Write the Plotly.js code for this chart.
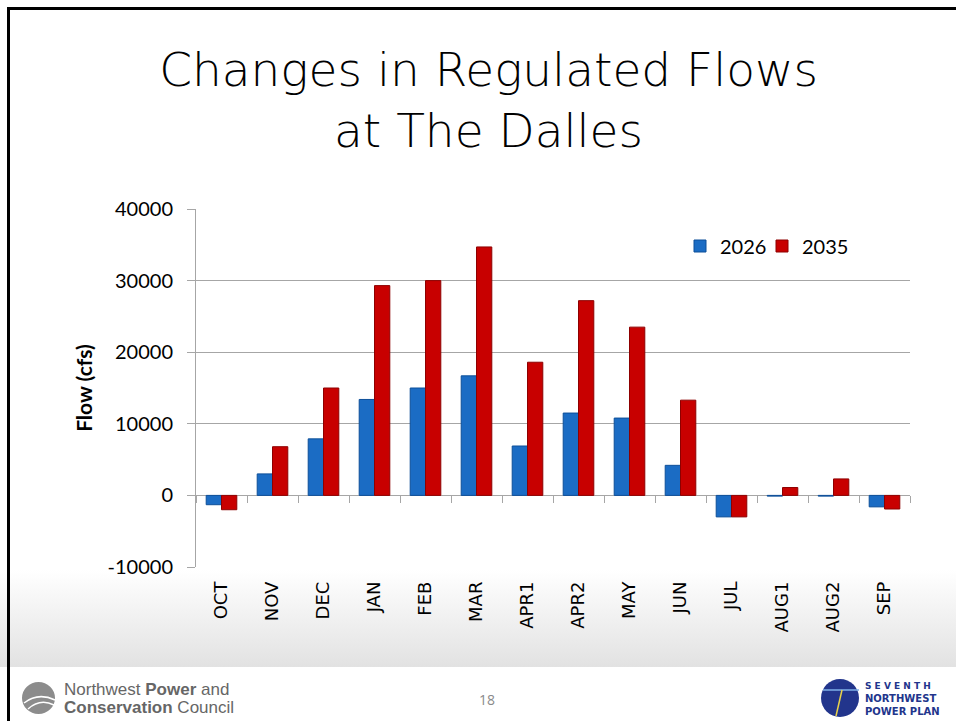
<!DOCTYPE html>
<html><head><meta charset="utf-8">
<script src="https://cdn.plot.ly/plotly-3.0.1.min.js"></script>
<style>
html,body{margin:0;padding:0;background:#fff}
#wrap{position:relative;width:956px;height:721px;overflow:hidden;background:linear-gradient(to bottom,#fff 0px,#fff 570px,#e2e2e2 667px,#fff 667px,#fff 721px)}
#chart{position:absolute;left:0;top:0;width:956px;height:721px}
#bt{position:absolute;left:7px;top:7px;right:0;height:3px;background:#000}
#bl{position:absolute;left:7px;top:7px;bottom:0;width:3px;background:#000}
</style></head>
<body><div id="wrap"><div id="chart"></div><div id="bt"></div><div id="bl"></div></div>
<script>
// ---- data ----
const months = ['OCT','NOV','DEC','JAN','FEB','MAR','APR1','APR2','MAY','JUN','JUL','AUG1','AUG2','SEP'];
const flow2026 = [-1300, 3000, 7900, 13400, 15000, 16700, 6900, 11500, 10800, 4200, -3000, -100, -100, -1600];
const flow2035 = [-2000, 6800, 15000, 29300, 30000, 34700, 18600, 27200, 23500, 13300, -3000, 1100, 2300, -1900];
const seriesNames = ['2026', '2035'];
const yTicks = [-10000, 0, 10000, 20000, 30000, 40000];
const titleText = 'Changes in Regulated Flows<br>at The Dalles';
const yTitle = 'Flow (cfs)';

// ---- layout geometry ----
const W = 956, H = 721, ML = 196, MR = 46, MT = 209, MB = 154;
const PW = W - ML - MR, PH = H - MT - MB;
const PX = x => (x - ML) / PW;
const PY = y => (H - MB - y) / PH;

const blue = '#1b6cc4', red = '#c80000';
const traces = [
  {type:'bar', name:seriesNames[0], x:months, y:flow2026, legend:'legend',
   marker:{color:blue, line:{color:'#0d4f99', width:1}}},
  {type:'bar', name:seriesNames[1], x:months, y:flow2035, legend:'legend2',
   marker:{color:red, line:{color:'#8e0000', width:1}}},
  {type:'scatter', mode:'markers', x:months, y:flow2026, xaxis:'x2',
   marker:{opacity:0, size:1}, showlegend:false, hoverinfo:'skip'}
];

const gray = '#a6a6a6';
const xRange = [-0.5, months.length - 0.5];
const legendBase = {orientation:'h', xanchor:'left', y:PY(246), yanchor:'middle',
  bgcolor:'rgba(0,0,0,0)', font:{family:'Lato, sans-serif', size:20, color:'#000'}, itemwidth:30};
const layout = {
  width: W, height: H,
  margin: {l:ML, r:MR, t:MT, b:MB, pad:0},
  paper_bgcolor: 'rgba(0,0,0,0)',
  plot_bgcolor: '#ffffff',
  barmode: 'group', bargap: 0.4, bargroupgap: 0,
  font: {family:'Lato, sans-serif', color:'#000'},
  title: {text:titleText, x:0.511, xref:'container', xanchor:'center',
          y:1 - 86/H, yref:'container', yanchor:'middle',
          font:{family:'DejaVu Sans, sans-serif', size:47, weight:200, color:'#000'}},
  xaxis: {type:'category', categoryorder:'array', categoryarray:months, range:xRange,
          tickangle:-90, ticks:'', showline:false, showgrid:false, zeroline:false,
          tickfont:{family:'DejaVu Sans, sans-serif', size:18, color:'#000'},
          ticklabelstandoff:10},
  xaxis2: {type:'category', categoryorder:'array', categoryarray:months, range:xRange,
           overlaying:'x', anchor:'free', position: PY(495.3),
           ticks:'outside', tickson:'boundaries', ticklen:7, tickcolor:gray, tickwidth:1,
           showticklabels:false, showline:false, showgrid:false, zeroline:false},
  yaxis: {range:[-10000, 40000], tickvals:yTicks, ticktext:yTicks.map(String),
          showline:true, linecolor:gray, linewidth:1,
          ticks:'outside', ticklen:8, tickcolor:gray, tickwidth:1,
          showgrid:true, gridcolor:gray, gridwidth:1.3,
          zeroline:true, zerolinecolor:gray, zerolinewidth:1.3,
          tickfont:{family:'Lato, sans-serif', size:20, color:'#000'},
          ticklabelstandoff:10,
          title:{text:yTitle, standoff:9, font:{family:'Lato, sans-serif', size:21, weight:'bold', color:'#000'}}},
  legend: Object.assign({}, legendBase, {x:PX(680)}),
  legend2: Object.assign({}, legendBase, {x:PX(762)}),
  shapes: [
    // footer logo (left)
    {type:'circle', xref:'paper', yref:'paper', x0:PX(22), x1:PX(55), y0:PY(714), y1:PY(682),
     fillcolor:'#8c8c8c', line:{width:0}, layer:'above'},
    {type:'path', xref:'paper', yref:'paper',
     path:`M ${PX(24)} ${PY(703)} Q ${PX(38)} ${PY(692)} ${PX(55)} ${PY(700)}`,
     line:{color:'#ffffff', width:1.5}, layer:'above'},
    {type:'path', xref:'paper', yref:'paper',
     path:`M ${PX(28)} ${PY(709)} Q ${PX(40)} ${PY(698)} ${PX(54)} ${PY(705)}`,
     line:{color:'#ffffff', width:1.5}, layer:'above'},
    // footer logo (right)
    {type:'circle', xref:'paper', yref:'paper', x0:PX(821), x1:PX(859), y0:PY(717), y1:PY(679),
     fillcolor:'#22358c', line:{width:0}, layer:'above'},
    {type:'path', xref:'paper', yref:'paper',
     path:`M ${PX(823)} ${PY(690)} L ${PX(859)} ${PY(690)}`,
     line:{color:'#7fb0e8', width:1.5}, layer:'above'},
    {type:'path', xref:'paper', yref:'paper',
     path:`M ${PX(842)} ${PY(690)} L ${PX(836)} ${PY(716)}`,
     line:{color:'#e8d24a', width:1.5}, layer:'above'}
  ],
  annotations: [
    {xref:'paper', yref:'paper', x:PX(62), y:PY(689), xanchor:'left', yanchor:'middle', showarrow:false,
     text:'Northwest <b>Power</b> and', font:{family:'Liberation Sans, sans-serif', size:17, color:'#666'}},
    {xref:'paper', yref:'paper', x:PX(62), y:PY(707), xanchor:'left', yanchor:'middle', showarrow:false,
     text:'<b>Conservation</b> Council', font:{family:'Liberation Sans, sans-serif', size:17, color:'#666'}},
    {xref:'paper', yref:'paper', x:PX(487), y:PY(699), xanchor:'center', yanchor:'middle', showarrow:false,
     text:'18', font:{family:'Open Sans, sans-serif', size:14, color:'#8a8a8a'}},
    {xref:'paper', yref:'paper', x:PX(863), y:PY(686), xanchor:'left', yanchor:'middle', showarrow:false,
     text:'<b>S E V E N T H</b>', font:{family:'DejaVu Sans, sans-serif', size:9, color:'#22358c'}},
    {xref:'paper', yref:'paper', x:PX(863), y:PY(698), xanchor:'left', yanchor:'middle', showarrow:false,
     text:'<b>NORTHWEST</b>', font:{family:'DejaVu Sans, sans-serif', size:10, color:'#22358c'}},
    {xref:'paper', yref:'paper', x:PX(863), y:PY(711), xanchor:'left', yanchor:'middle', showarrow:false,
     text:'<b>POWER PLAN</b>', font:{family:'DejaVu Sans, sans-serif', size:10, color:'#22358c'}}
  ],
  showlegend: true
};

Plotly.newPlot('chart', traces, layout, {displayModeBar:false, staticPlot:true});
</script>
</body></html>
